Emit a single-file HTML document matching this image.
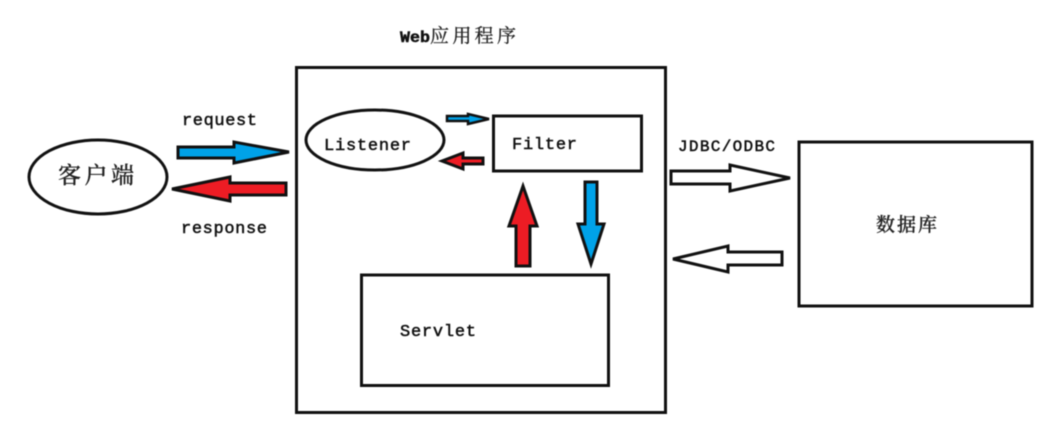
<!DOCTYPE html>
<html>
<head>
<meta charset="utf-8">
<style>
html,body{margin:0;padding:0;background:#fff;width:1042px;height:429px;overflow:hidden}
svg{display:block;filter:blur(.5px)}
.m{font-family:"Liberation Mono","DejaVu Sans Mono",monospace;font-size:17px;fill:#111;stroke:#111;stroke-width:.5px}
.c{font-family:"Noto Serif CJK SC","Liberation Serif",serif;fill:#222;stroke:#222;stroke-width:.3px}
</style>
</head>
<body>
<svg width="1042" height="429" viewBox="0 0 1042 429" xmlns="http://www.w3.org/2000/svg">
<g fill="none" stroke="#111" stroke-width="3">
<rect x="296.5" y="67.5" width="369" height="345"/>
<rect x="493.5" y="116" width="148" height="55"/>
<rect x="361.5" y="275" width="247" height="110.500"/>
<rect x="799" y="142" width="233" height="164"/>
<ellipse cx="98" cy="177" rx="69" ry="37" fill="#fff"/>
<ellipse cx="375" cy="140" rx="69" ry="30" fill="#fff"/>
</g>
<g stroke="#111" stroke-width="3" stroke-linejoin="miter">
<polygon points="178,147 234,147 234,142 289,152 234,163 234,158 178,158" fill="#00a2e8"/>
<polygon points="286,183 230,183 230,177 172,189 230,201 230,195 286,195" fill="#ed1c24"/>
<polygon points="447,116 468,116 468,114 489,119 468,124 468,121 447,121" fill="#00a2e8" stroke-width="2.5"/>
<polygon points="483,158 463,158 463,153 442,161 463,169 463,164 483,164" fill="#ed1c24"/>
<polygon points="516,266 516,226 509,226 523,186 537,226 530,226 530,266" fill="#ed1c24"/>
<polygon points="585,182 597,182 597,224 604,224 591,264 578,224 585,224" fill="#00a2e8"/>
<polygon points="671,171 730,171 730,165 790,178 730,191 730,184 671,184" fill="#fff"/>
<polygon points="782,252 728,252 728,246 673,259 728,272 728,265 782,265" fill="#fff"/>
</g>
<text class="m" x="182" y="125" textLength="75" lengthAdjust="spacing">request</text>
<text class="m" x="181" y="233" textLength="86" lengthAdjust="spacing">response</text>
<text class="m" x="324" y="150" textLength="87" lengthAdjust="spacing">Listener</text>
<text class="m" x="512" y="149" textLength="65" lengthAdjust="spacing">Filter</text>
<text class="m" x="400" y="336" textLength="76" lengthAdjust="spacing">Servlet</text>
<text class="m" x="678" y="151" textLength="97" lengthAdjust="spacing" style="font-size:16px">JDBC/ODBC</text>
<text class="m" x="400" y="42" style="font-size:16px;font-weight:bold" textLength="30" lengthAdjust="spacingAndGlyphs">Web</text>
<text class="c" x="430" y="42" font-size="19" textLength="86" lengthAdjust="spacing">应用程序</text>
<text class="c" x="58" y="183" font-size="23" font-weight="500" textLength="76" lengthAdjust="spacing">客户端</text>
<text class="c" x="876" y="231" font-size="19" font-weight="500" textLength="61" lengthAdjust="spacing">数据库</text>
</svg>
</body>
</html>
